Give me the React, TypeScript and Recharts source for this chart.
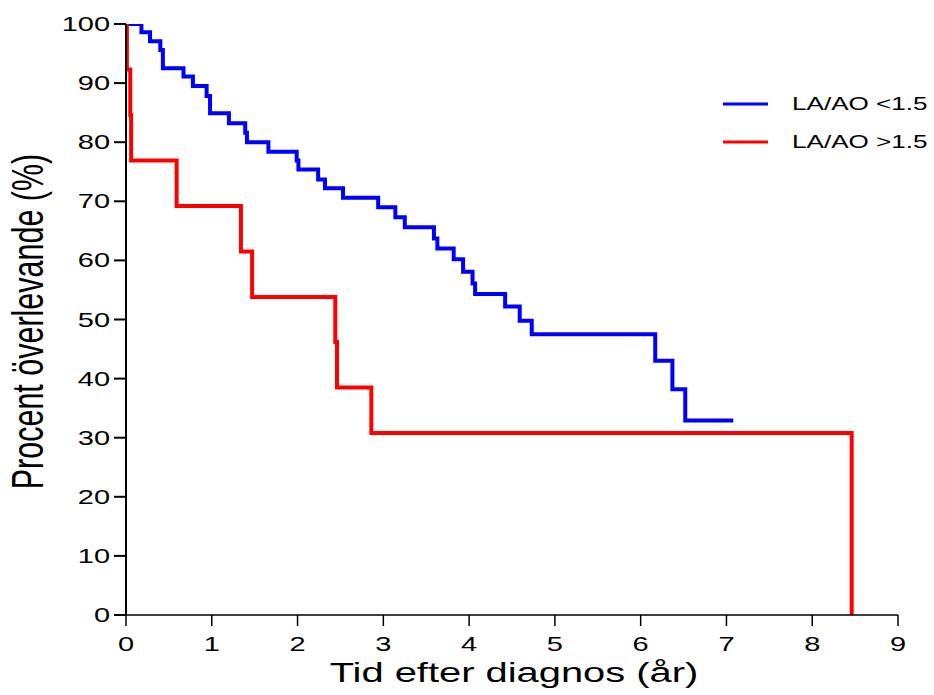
import React from 'react';
import { LineChart, Line, XAxis, YAxis, Legend } from 'recharts';

// Kaplan-Meier steps (time in years, survival in %)
const lowTimes = [0, 0.18, 0.28, 0.4, 0.43, 0.67, 0.78, 0.94, 0.98, 1.2, 1.39, 1.41, 1.66, 1.99, 2.01, 2.24, 2.32, 2.53, 2.94, 3.14, 3.25, 3.59, 3.63, 3.82, 3.93, 4.04, 4.07, 4.42, 4.59, 4.73, 6.17, 6.37, 6.52, 7.08];
const lowSurv = [100, 98.6, 97.1, 95.6, 92.5, 91.1, 89.5, 87.8, 84.9, 83.2, 81.6, 80.0, 78.4, 76.9, 75.4, 73.7, 72.2, 70.6, 69.0, 67.3, 65.6, 63.7, 62.0, 60.2, 58.1, 56.1, 54.3, 52.2, 49.8, 47.5, 43.0, 38.2, 32.9, 32.9];

const highTimes = [0, 0.01, 0.05, 0.06, 0.59, 1.34, 1.47, 2.44, 2.46, 2.86, 8.46];
const highSurv = [100, 92.3, 84.6, 76.9, 69.2, 61.5, 53.8, 46.2, 38.5, 30.8, 0];

const xTicks = [0, 1, 2, 3, 4, 5, 6, 7, 8, 9];
const yTicks = [0, 10, 20, 30, 40, 50, 60, 70, 80, 90, 100];

const seriesNames = ['LA/AO <1.5', 'LA/AO >1.5'];

const lowData = lowTimes.map((t, i) => ({ t, s: lowSurv[i] }));
const highData = highTimes.map((t, i) => ({ t, s: highSurv[i] }));

const FONT = '"Liberation Sans", Arial, Helvetica, sans-serif';
const SX = 1.45; // the reference text is stretched horizontally

const XTick = ({ x, y, payload }: any) => (
  <text
    transform={`translate(${x},${y}) scale(${SX},1)`}
    dy={23}
    textAnchor="middle"
    fontFamily={FONT}
    fontSize={20}
    fill="#000"
  >
    {payload.value}
  </text>
);

const YTick = ({ x, y, payload }: any) => (
  <text
    transform={`translate(${x - 2},${y}) scale(${SX},1)`}
    dy={7}
    textAnchor="end"
    fontFamily={FONT}
    fontSize={20}
    fill="#000"
  >
    {payload.value}
  </text>
);

const XLabel = ({ viewBox }: any) => (
  <text
    transform={`translate(${viewBox.x + viewBox.width / 2 + 2},${viewBox.y + 67}) scale(${SX},1)`}
    textAnchor="middle"
    fontFamily={FONT}
    fontSize={27.5}
    fill="#000"
  >
    Tid efter diagnos (år)
  </text>
);

const YLabel = ({ viewBox }: any) => (
  <text
    transform={`translate(${viewBox.x - 23},${viewBox.y + viewBox.height / 2 + 2}) scale(${SX},1) rotate(-90)`}
    textAnchor="middle"
    fontFamily={FONT}
    fontSize={30.5}
    fill="#000"
  >
    Procent överlevande (%)
  </text>
);

const renderLegend = (props: any) => {
  const items = props.payload || [];
  return (
    <svg width={934} height={170}>
      {items.map((item: any, i: number) => {
        const y = 104 + i * 38;
        return (
          <g key={i}>
            <line x1={723} x2={768} y1={y} y2={y} stroke={item.color} strokeWidth={3} />
            <text
              transform={`translate(792,${y + 6}) scale(${SX},1)`}
              fontFamily={FONT}
              fontSize={18}
              fill="#000"
            >
              {item.value}
            </text>
          </g>
        );
      })}
    </svg>
  );
};

export default function App() {
  return (
    <div style={{ position: 'absolute', left: 0, top: 0 }}>
      <LineChart width={934} height={695} margin={{ top: 24, right: 36, bottom: 0, left: 66 }}>
        <XAxis
          type="number"
          dataKey="t"
          domain={[0, 9]}
          ticks={xTicks}
          interval={0}
          height={80}
          tickSize={11}
          stroke="#000"
          strokeWidth={1.5}
          tick={<XTick />}
          label={{ content: <XLabel /> }}
          allowDataOverflow
        />
        <YAxis
          type="number"
          dataKey="s"
          domain={[0, 100]}
          ticks={yTicks}
          interval={0}
          width={60}
          tickSize={12}
          stroke="#000"
          strokeWidth={2}
          tick={<YTick />}
          label={{ content: <YLabel /> }}
          allowDataOverflow
        />
        <Legend
          layout="horizontal"
          verticalAlign="middle"
          align="center"
          content={renderLegend}
          wrapperStyle={{ position: 'absolute', left: 0, top: 0, width: 934, height: 170 }}
        />
        <Line
          data={lowData}
          dataKey="s"
          name={seriesNames[0]}
          type="stepAfter"
          stroke="#0000ff"
          strokeWidth={4}
          dot={false}
          activeDot={false}
          isAnimationActive={false}
        />
        <Line
          data={highData}
          dataKey="s"
          name={seriesNames[1]}
          type="stepAfter"
          stroke="#ff0000"
          strokeWidth={4}
          dot={false}
          activeDot={false}
          isAnimationActive={false}
        />
      </LineChart>
    </div>
  );
}
